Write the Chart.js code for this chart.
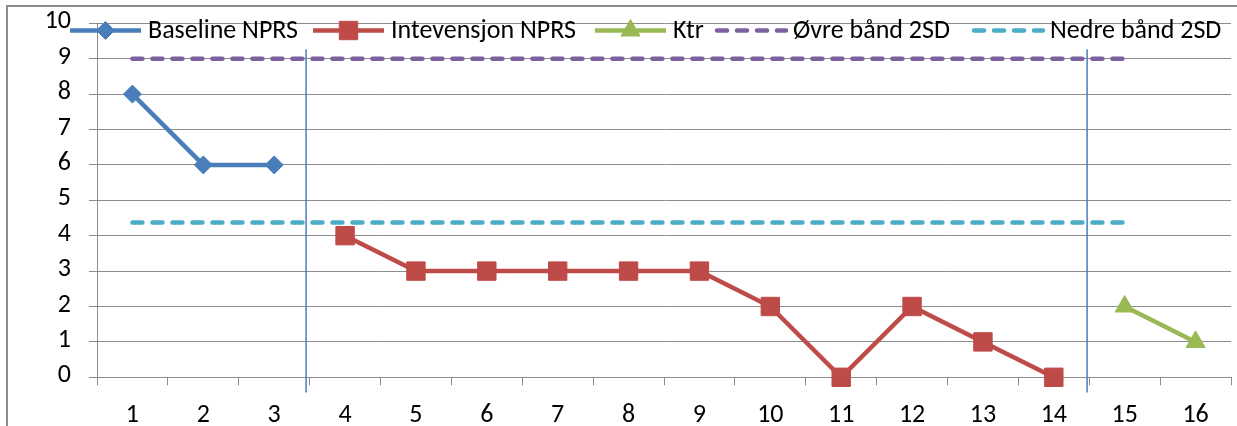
<!DOCTYPE html>
<html><head><meta charset="utf-8">
<script src="https://cdn.jsdelivr.net/npm/chart.js@4.4.1/dist/chart.umd.min.js"></script>
<style>
html,body{margin:0;padding:0;background:#fff;overflow:hidden;width:1237px;height:426px;}
#frame{position:absolute;left:6px;top:5px;width:1300px;height:500px;border-left:2px solid #8c8c8c;border-top:2px solid #8c8c8c;}
#wrap{position:absolute;left:0;top:0;width:1245px;height:426px;}
</style></head><body>
<div id="frame"></div>
<div id="wrap"><canvas id="c"></canvas></div>
<script>
// ---- data ----
const sessions = ['1','2','3','4','5','6','7','8','9','10','11','12','13','14','15','16'];
const baselineNPRS = [8, 6, 6];                               // sessions 1-3
const interventionNPRS = [4, 3, 3, 3, 3, 3, 2, 0, 2, 1, 0];   // sessions 4-14
const ktrNPRS = [2, 1];                                       // sessions 15-16
const upperBand2SD = 9;
const lowerBand2SD = 4.37;
const bandLastSession = 15;
const phaseBreaks = [3.45, 14.47];                            // session positions of phase lines
const yTickValues = [0, 1, 2, 3, 4, 5, 6, 7, 8, 9, 10];
const seriesNames = ['Baseline NPRS', 'Intevensjon NPRS', 'Ktr', 'Øvre bånd 2SD', 'Nedre bånd 2SD'];

// ---- helpers ----
function placeAt(values, firstSession) {
  const out = sessions.map(() => null);
  values.forEach((v, i) => { out[firstSession - 1 + i] = v; });
  return out;
}
function constantBand(v, lastSession) {
  return sessions.map((s, i) => (i < lastSession ? v : null));
}

// font choice: Carlito (Calibri metrics) if present, else Liberation Sans
function hasFont(name) {
  const c = document.createElement('canvas').getContext('2d');
  const t = 'Baseline NPRS 0123456789 mmmWWiil';
  c.font = '40px monospace'; const a = c.measureText(t).width;
  c.font = '40px "' + name + '", monospace'; const b = c.measureText(t).width;
  return Math.abs(a - b) > 0.5;
}
const useCarlito = hasFont('Carlito');
const FONT = useCarlito ? 'Carlito, "Liberation Sans", sans-serif' : '"Liberation Sans", Arial, sans-serif';
const FSIZE = useCarlito ? 26 : 23.5;
const GRID = '#8c8c8c';

const legendPlugin = {
  id: 'lineLegend',
  afterDraw(chart, args, opts) {
    const ctx = chart.ctx;
    ctx.save();
    chart.data.datasets.forEach((ds, i) => {
      const x0 = opts.starts[i];
      const x1 = x0 + opts.lineLength;
      const y = opts.y;
      ctx.beginPath();
      ctx.strokeStyle = ds.borderColor;
      ctx.lineWidth = ds.borderWidth;
      ctx.lineCap = ds.borderCapStyle || 'butt';
      ctx.setLineDash(ds.borderDash || []);
      ctx.moveTo(x0 + (ds.borderDash ? 2 : 0), y);
      ctx.lineTo(x1, y);
      ctx.stroke();
      ctx.setLineDash([]);
      if (ds.pointRadius > 0) {
        ctx.fillStyle = ds.pointBackgroundColor;
        ctx.strokeStyle = ds.pointBorderColor;
        ctx.lineWidth = ds.pointBorderWidth;
        Chart.helpers.drawPoint(ctx, {pointStyle: ds.pointStyle, radius: ds.pointRadius, borderWidth: ds.pointBorderWidth, rotation: 0}, (x0 + x1) / 2, y);
      }
      ctx.fillStyle = '#000';
      ctx.font = FSIZE + 'px ' + FONT;
      ctx.textBaseline = 'alphabetic';
      ctx.textAlign = 'left';
      ctx.fillText(ds.label, x1 + opts.textGap, opts.y + 7.5);
    });
    ctx.restore();
  }
};

const phaseLinesPlugin = {
  id: 'phaseLines',
  beforeDatasetsDraw(chart, args, opts) {
    const {ctx, scales: {x, y}} = chart;
    ctx.save();
    ctx.strokeStyle = opts.color;
    ctx.lineWidth = opts.width;
    opts.positions.forEach(p => {
      const px = x.getPixelForValue(p - 1);
      ctx.beginPath();
      ctx.moveTo(px, y.getPixelForValue(opts.top));
      ctx.lineTo(px, y.getPixelForValue(opts.bottom));
      ctx.stroke();
    });
    ctx.restore();
  }
};

const common = {tension: 0, clip: false, spanGaps: false, fill: false};

new Chart(document.getElementById('c'), {
  type: 'line',
  data: {
    labels: sessions,
    datasets: [
      Object.assign({label: seriesNames[0], data: placeAt(baselineNPRS, 1),
        borderColor: '#4a7ebb', backgroundColor: '#4a7ebb', borderWidth: 4.5,
        pointStyle: 'rectRot', pointRadius: 9, pointBackgroundColor: '#4a7ebb', pointBorderColor: '#4a7ebb', pointBorderWidth: 1}, common),
      Object.assign({label: seriesNames[1], data: placeAt(interventionNPRS, 4),
        borderColor: '#be4b48', backgroundColor: '#be4b48', borderWidth: 4.5,
        pointStyle: 'rect', pointRadius: 13, pointBackgroundColor: '#be4b48', pointBorderColor: '#be4b48', pointBorderWidth: 1}, common),
      Object.assign({label: seriesNames[2], data: placeAt(ktrNPRS, 15),
        borderColor: '#98b954', backgroundColor: '#98b954', borderWidth: 4.5,
        pointStyle: 'triangle', pointRadius: 11, pointBackgroundColor: '#98b954', pointBorderColor: '#98b954', pointBorderWidth: 1}, common),
      Object.assign({label: seriesNames[3], data: constantBand(upperBand2SD, bandLastSession),
        borderColor: '#7d60a0', borderWidth: 4.5, borderDash: [10, 10], borderCapStyle: 'round', pointRadius: 0}, common),
      Object.assign({label: seriesNames[4], data: constantBand(lowerBand2SD, bandLastSession),
        borderColor: '#4bacc6', borderWidth: 4.5, borderDash: [10, 10], borderCapStyle: 'round', pointRadius: 0}, common)
    ]
  },
  options: {
    responsive: true,
    maintainAspectRatio: false,
    animation: false,
    events: [],
    layout: {padding: {left: 0, right: 5.6, top: 23.3, bottom: 0}},
    plugins: {
      legend: {display: false},
      tooltip: {enabled: false},
      lineLegend: {starts: [70, 313, 595, 715, 972], lineLength: 71, textGap: 7, y: 30.5},
      phaseLines: {positions: phaseBreaks, top: 9.27, bottom: -0.43, color: '#4a7ebb', width: 1.5}
    },
    scales: {
      x: {
        type: 'category',
        offset: true,
        grid: {offset: true, drawOnChartArea: false, drawTicks: true, tickLength: 8, color: GRID},
        border: {display: true, color: GRID, width: 1},
        ticks: {color: '#000', font: {size: FSIZE, family: FONT}, padding: 15, maxRotation: 0, autoSkip: false},
        afterFit(scale) { scale.height = 48.7; scale.paddingLeft = 0; scale.paddingRight = 0; }
      },
      y: {
        min: yTickValues[0],
        max: yTickValues[yTickValues.length - 1],
        afterBuildTicks(scale) { scale.ticks = yTickValues.map(v => ({value: v})); },
        grid: {color: GRID, lineWidth: 1, tickLength: 8, drawTicks: true},
        border: {display: true, color: GRID, width: 1},
        ticks: {color: '#000', font: {size: FSIZE, family: FONT}, padding: 18, labelOffset: -1.5},
        afterFit(scale) { scale.width = 97; scale.paddingTop = 0; scale.paddingBottom = 0; }
      }
    }
  },
  plugins: [legendPlugin, phaseLinesPlugin]
});
</script>
</body></html>
